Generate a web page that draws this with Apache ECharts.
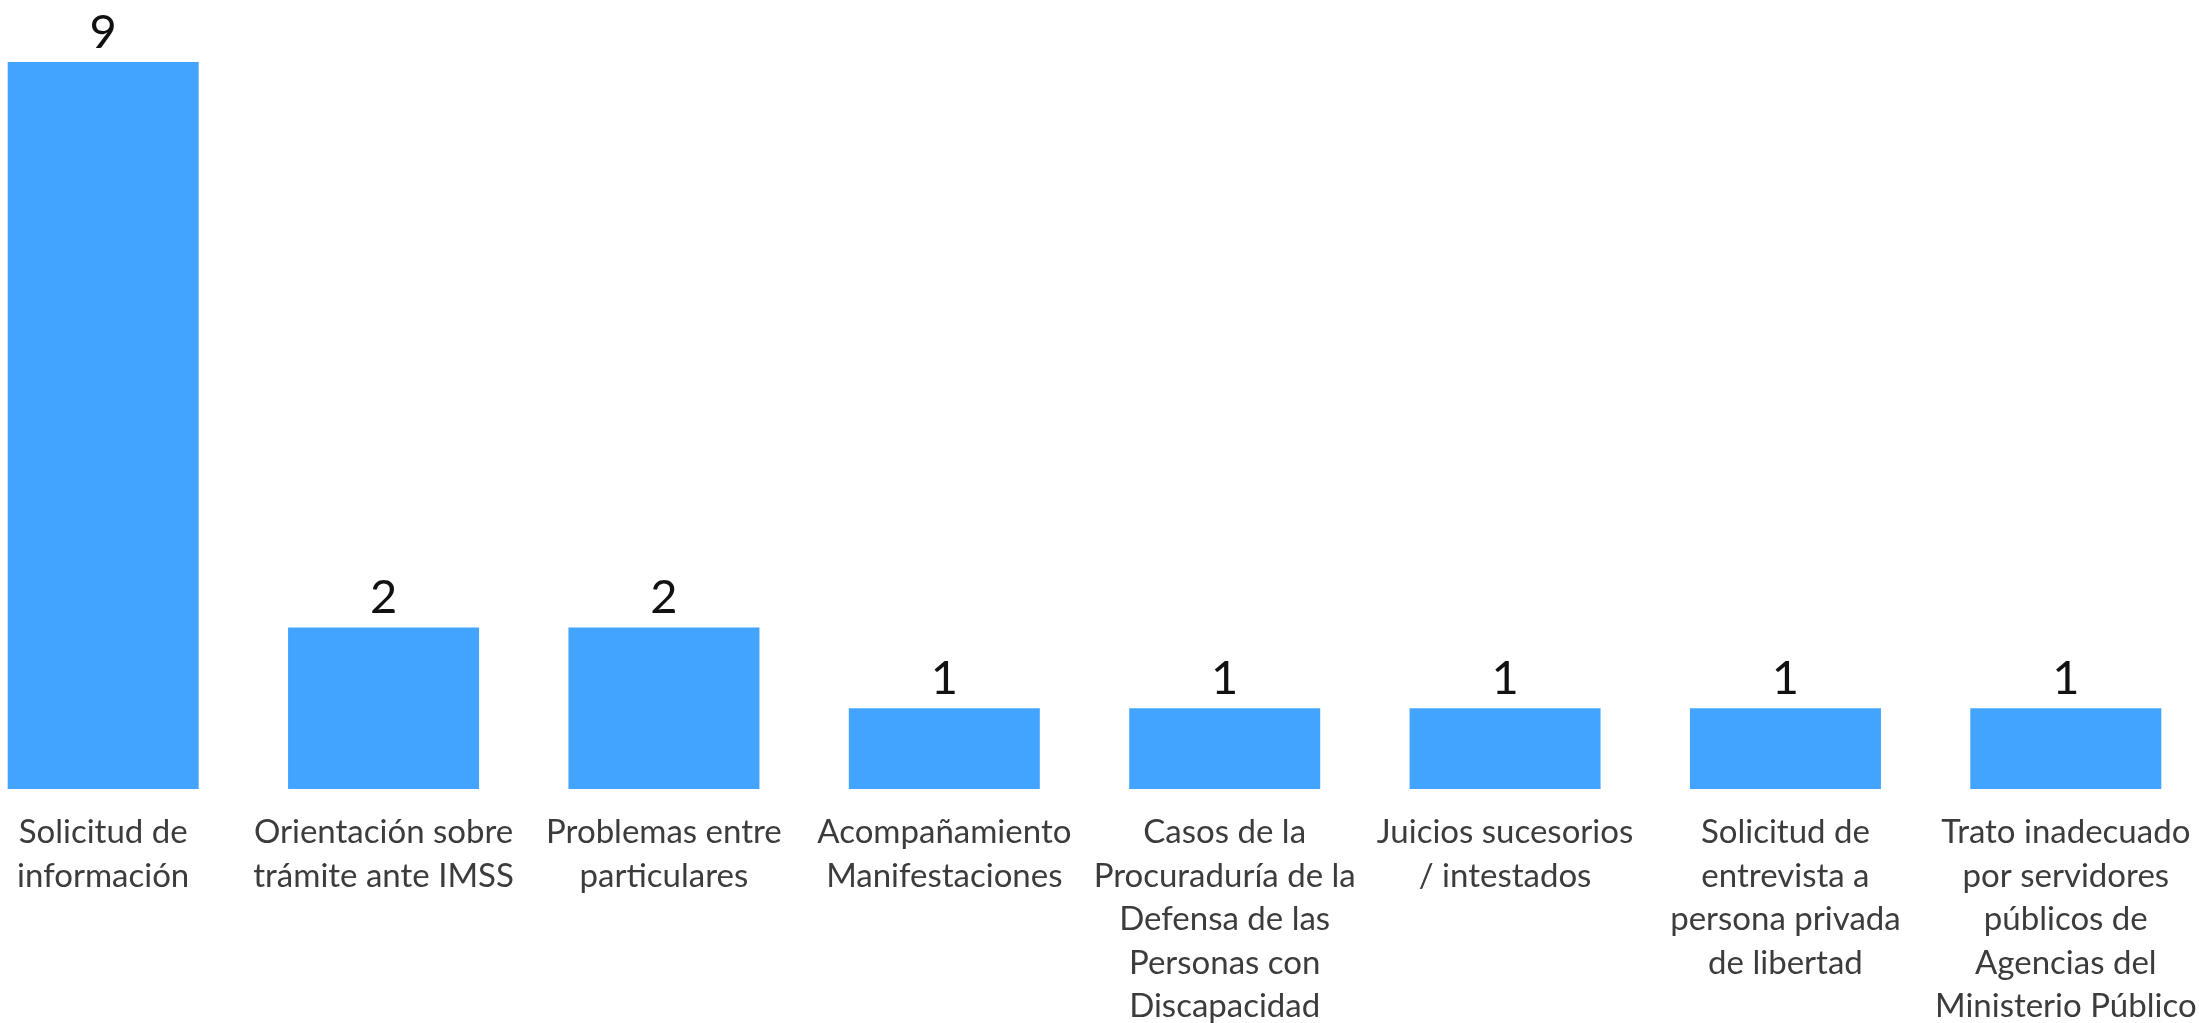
<!DOCTYPE html>
<html>
<head>
<meta charset="utf-8">
<script src="https://cdn.jsdelivr.net/npm/echarts@6/dist/echarts.min.js"></script>
<style>
  html, body { margin: 0; padding: 0; background: #fff; overflow: hidden; }
  /* the first band starts a little left of the page edge */
  #main { width: 2243px; height: 1023px; margin-left: -37px; }
</style>
</head>
<body>
<div id="main"></div>
<script>
// categorias (con los saltos de linea del original)
var categories = [
  "Solicitud de\ninformación",
  "Orientación sobre\ntrámite ante IMSS",
  "Problemas entre\nparticulares",
  "Acompañamiento\nManifestaciones",
  "Casos de la\nProcuraduría de la\nDefensa de las\nPersonas con\nDiscapacidad",
  "Juicios sucesorios\n/ intestados",
  "Solicitud de\nentrevista a\npersona privada\nde libertad",
  "Trato inadecuado\npor servidores\npúblicos de\nAgencias del\nMinisterio Público"
];
var values = [9, 2, 2, 1, 1, 1, 1, 1];

var chart = echarts.init(document.getElementById("main"));
var option = {
  animation: false,
  grid: {
    left: 0,
    right: 0,
    top: 62,
    bottom: 234,
    containLabel: false,
    outerBoundsMode: "none"
  },
  xAxis: {
    type: "category",
    data: categories,
    axisLine: { show: false },
    axisTick: { show: false },
    axisLabel: {
      interval: 0,
      margin: 22,
      fontFamily: "Lato",
      fontSize: 33,
      lineHeight: 43.5,
      color: "#3c3c3c"
    }
  },
  yAxis: {
    type: "value",
    min: 0,
    max: 9,
    show: false,
    splitLine: { show: false }
  },
  series: [
    {
      type: "bar",
      data: values,
      barWidth: 191,
      itemStyle: { color: "#42A4FF" },
      label: {
        show: true,
        position: "top",
        distance: 6,
        fontFamily: "Lato",
        fontSize: 47,
        color: "#111"
      }
    }
  ]
};
chart.setOption(option);
</script>
</body>
</html>
